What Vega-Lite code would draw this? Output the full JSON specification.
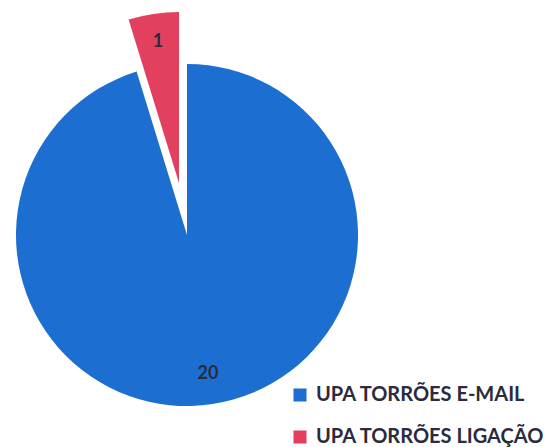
{
  "$schema": "https://vega.github.io/schema/vega-lite/v6.json",
  "width": 340,
  "height": 340,
  "autosize": {"type": "none"},
  "padding": {"left": 17, "top": 65, "right": 192, "bottom": 42},
  "background": "white",
  "config": {"view": {"stroke": null}},
  "data": {"values": [
    {"categoria": "UPA TORRÕES E-MAIL", "valor": 20},
    {"categoria": "UPA TORRÕES LIGAÇÃO", "valor": 1}
  ]},
  "encoding": {
    "theta": {"field": "valor", "type": "quantitative", "stack": true, "scale": {"domain": [0, 21]}},
    "order": {"field": "categoria", "type": "ordinal", "sort": "ascending"}
  },
  "layer": [
    {
      "mark": {"type": "arc", "outerRadius": 171},
      "encoding": {
        "color": {
          "field": "categoria", "type": "nominal",
          "scale": {"domain": ["UPA TORRÕES E-MAIL", "UPA TORRÕES LIGAÇÃO"], "range": ["#1c6fd1", "#e2405e"]},
          "legend": {
            "orient": "none", "legendX": 273, "legendY": 320, "title": null,
            "symbolType": "square", "symbolSize": 170,
            "labelFont": "Lato", "labelFontSize": 20, "labelFontWeight": "bold",
            "labelColor": "#2b2b3d", "rowPadding": 22, "labelOffset": 6, "labelLimit": 300
          }
        },
        "opacity": {"condition": {"test": "datum.categoria === 'UPA TORRÕES E-MAIL'", "value": 1}, "value": 0}
      }
    },
    {
      "mark": {"type": "arc", "outerRadius": 171, "xOffset": -8, "yOffset": -52},
      "encoding": {
        "color": {"field": "categoria", "type": "nominal"},
        "opacity": {"condition": {"test": "datum.categoria === 'UPA TORRÕES LIGAÇÃO'", "value": 1}, "value": 0}
      }
    },
    {
      "mark": {"type": "text", "radius": 141, "font": "Lato", "fontSize": 18, "fontWeight": "bold", "color": "#2b2b3d"},
      "encoding": {
        "text": {"field": "valor", "type": "quantitative"},
        "opacity": {"condition": {"test": "datum.categoria === 'UPA TORRÕES E-MAIL'", "value": 1}, "value": 0}
      }
    },
    {
      "mark": {"type": "text", "radius": 141, "dx": -8, "dy": -54, "font": "Lato", "fontSize": 18, "fontWeight": "bold", "color": "#2b2b3d"},
      "encoding": {
        "text": {"field": "valor", "type": "quantitative"},
        "opacity": {"condition": {"test": "datum.categoria === 'UPA TORRÕES LIGAÇÃO'", "value": 1}, "value": 0}
      }
    }
  ]
}
